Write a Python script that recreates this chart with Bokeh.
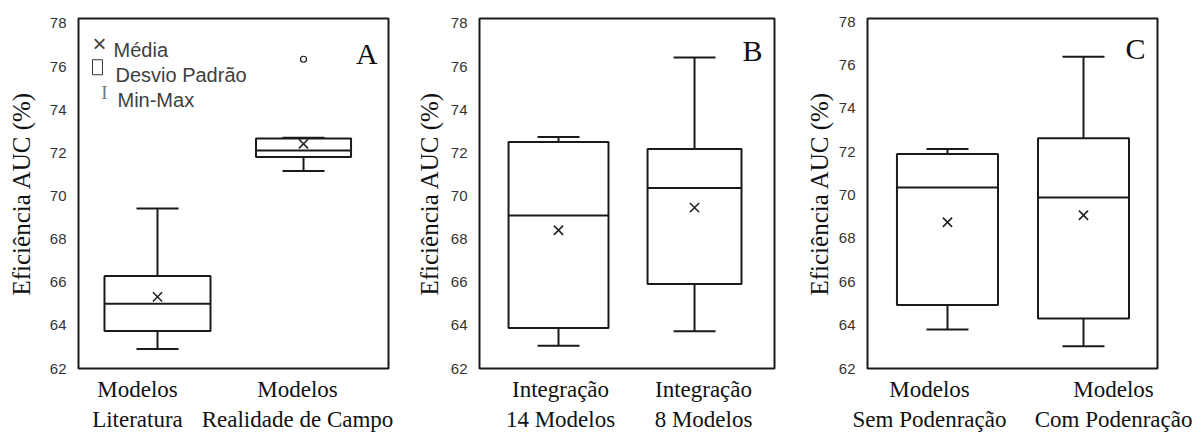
from bokeh.plotting import figure
from bokeh.layouts import row
from bokeh.models import ColumnDataSource, Range1d, FixedTicker, Whisker, TeeHead, Label
from bokeh.embed import file_html
from bokeh.resources import INLINE

# ---------------- data ----------------
y_ticks = [62, 64, 66, 68, 70, 72, 74, 76, 78]
y_label = "Eficiência AUC (%)"

cats_a = ["Modelos\nLiteratura", "Modelos\nRealidade de Campo"]
min_a = [62.91, 71.16]
q1_a = [63.74, 71.81]
med_a = [65.00, 72.11]
q3_a = [66.29, 72.66]
max_a = [69.42, 72.70]
mean_a = [65.32, 72.42]
outlier_a_idx = [1]
outlier_a_val = [76.34]

cats_b = ["Integração\n14 Modelos", "Integração\n8 Modelos"]
min_b = [63.05, 63.73]
q1_b = [63.88, 65.92]
med_b = [69.09, 70.37]
q3_b = [72.50, 72.18]
max_b = [72.74, 76.42]
mean_b = [68.41, 69.46]

cats_c = ["Modelos\nSem Podenração", "Modelos\nCom Podenração"]
min_c = [63.80, 63.03]
q1_c = [64.93, 64.31]
med_c = [70.35, 69.89]
q3_c = [71.90, 72.63]
max_c = [72.13, 76.38]
mean_c = [68.75, 69.07]

legend_texts = ["Média", "Desvio Padrão", "Min-Max"]
panel_letters = ["A", "B", "C"]

SERIF = "Liberation Serif"
SANS = "Liberation Sans"
INK = "#111111"
LINE = "#1a1a1a"
LW = 2
FIG_H = 436


def make_panel(cats, mins, q1s, meds, q3s, maxs, means, lay):
    xs = list(range(len(cats)))
    w = lay["box_w"]
    src = ColumnDataSource(dict(
        x=xs, lo=mins, q1=q1s, med=meds, q3=q3s, hi=maxs, mean=means, w=w,
        x0=[x - ww / 2 for x, ww in zip(xs, w)],
        x1=[x + ww / 2 for x, ww in zip(xs, w)],
    ))
    p = figure(width=lay["width"], height=FIG_H, output_backend="svg",
               toolbar_location=None, tools="",
               x_range=Range1d(*lay["xr"]), y_range=Range1d(62, lay["ytop"]),
               min_border_left=lay["bl"], min_border_right=lay["br"],
               min_border_top=lay["bt"], min_border_bottom=lay["bb"])
    p.grid.visible = False
    p.outline_line_color = LINE
    p.outline_line_width = LW
    p.background_fill_color = "white"
    p.border_fill_color = "white"

    wh = Whisker(base="x", lower="lo", upper="hi", source=src, dimension="height",
                 line_color=LINE, line_width=LW, level="underlay",
                 upper_head=TeeHead(size=42, line_color=LINE, line_width=LW),
                 lower_head=TeeHead(size=42, line_color=LINE, line_width=LW))
    p.add_layout(wh)
    p.vbar(x="x", width="w", bottom="q1", top="q3", source=src,
           fill_color="white", line_color=LINE, line_width=LW)
    p.segment(x0="x0", x1="x1", y0="med", y1="med", source=src,
              line_color=LINE, line_width=LW)
    p.scatter(x="x", y="mean", source=src, marker="x", size=13,
              line_color="#222222", line_width=1.6)

    # y axis
    p.yaxis.ticker = FixedTicker(ticks=y_ticks)
    p.yaxis.axis_label = y_label
    p.yaxis.axis_label_text_font = SERIF
    p.yaxis.axis_label_text_font_style = "normal"
    p.yaxis.axis_label_text_font_size = "25px"
    p.yaxis.axis_label_text_color = INK
    p.yaxis.axis_label_standoff = lay["als"]
    p.yaxis.major_label_text_font = SANS
    p.yaxis.major_label_text_font_size = "15px"
    p.yaxis.major_label_text_color = "#333333"
    p.yaxis.major_label_standoff = 12
    p.yaxis.axis_line_color = None
    p.yaxis.major_tick_line_color = None
    p.yaxis.minor_tick_line_color = None
    p.yaxis.major_tick_out = 0
    p.yaxis.major_tick_in = 0
    p.yaxis.minor_tick_out = 0

    # x axis
    p.xaxis.ticker = FixedTicker(ticks=lay["xt"])
    p.xaxis.major_label_overrides = {t: c for t, c in zip(lay["xt"], cats)}
    p.xaxis.major_label_text_font = SERIF
    p.xaxis.major_label_text_font_size = "23px"
    p.xaxis.major_label_text_color = INK
    p.xaxis.major_label_standoff = 8
    p.xaxis.axis_line_color = None
    p.xaxis.major_tick_line_color = None
    p.xaxis.minor_tick_line_color = None
    p.xaxis.major_tick_out = 0
    p.xaxis.major_tick_in = 0
    p.xaxis.minor_tick_out = 0

    lx, ly = lay["letter"]
    p.add_layout(Label(x=lx, y=ly, text=lay["name"], text_font=SERIF,
                       text_font_size="30px", text_align="right",
                       text_baseline="alphabetic", text_color=INK))
    return p


pa = make_panel(cats_a, min_a, q1_a, med_a, q3_a, max_a, mean_a,
                dict(width=412, bl=78, br=24, bt=18, bb=66, xr=(-0.541, 1.582), ytop=78.23,
                     box_w=[0.726, 0.651], xt=[-0.137, 0.959], als=12,
                     letter=(1.507, 76.62), name=panel_letters[0]))
pa.scatter(x=outlier_a_idx, y=outlier_a_val, marker="circle", size=6,
           fill_color="white", line_color=LINE, line_width=1.2)
# legend of panel A
leg_col = "#404040"
pa.add_layout(Label(x=-0.397, y=77.08, text="×", text_font=SANS,
                    text_font_size="24px", text_align="center", text_baseline="middle",
                    text_color="#444444"))
pa.add_layout(Label(x=-0.411, y=75.97, text=" ", text_font=SANS,
                    text_font_size="7px", text_align="center", text_baseline="middle",
                    padding=4, border_line_color="#333333", border_line_width=1,
                    background_fill_color="white"))
pa.add_layout(Label(x=-0.363, y=74.79, text="I", text_font=SERIF,
                    text_font_size="19px", text_align="center", text_baseline="middle",
                    text_color="#777777"))
for tx, (lx, ly) in zip(legend_texts, [(-0.301, 76.75), (-0.288, 75.62), (-0.274, 74.45)]):
    pa.add_layout(Label(x=lx, y=ly, text=tx, text_font=SANS, text_font_size="20px",
                        text_align="left", text_baseline="alphabetic", text_color=leg_col))

pb = make_panel(cats_b, min_b, q1_b, med_b, q3_b, max_b, mean_b,
                dict(width=390, bl=67, br=28, bt=18, bb=68, xr=(-0.581, 1.588), ytop=78.23,
                     box_w=[0.735, 0.691], xt=[0.015, 1.066], als=5,
                     letter=(1.500, 76.76), name=panel_letters[1]))

pc = make_panel(cats_c, min_c, q1_c, med_c, q3_c, max_c, mean_c,
                dict(width=391, bl=65, br=36, bt=15, bb=68, xr=(-0.588, 1.544), ytop=78.15,
                     box_w=[0.743, 0.669], xt=[-0.132, 1.221], als=3,
                     letter=(1.456, 76.78), name=panel_letters[2]))

layout = row(pa, pb, pc)
open("out.html", "w").write(file_html(layout, INLINE))
